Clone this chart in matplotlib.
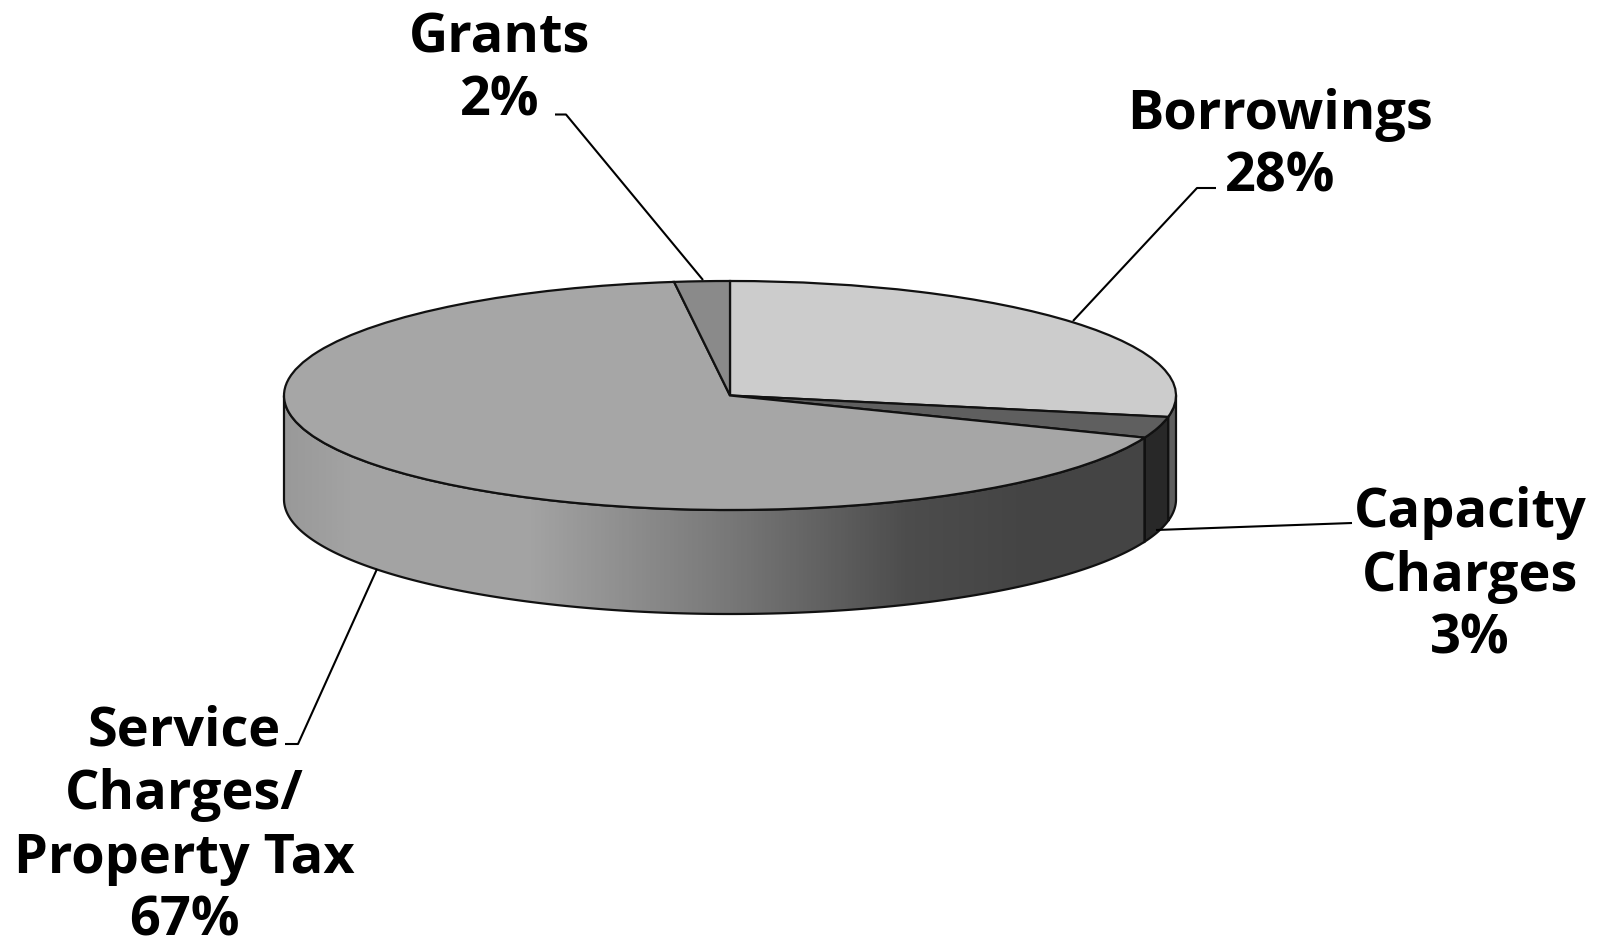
#!/usr/bin/env python
"""Funding sources as a tilted grey pie with a shaded rim."""
import numpy as np
import matplotlib
matplotlib.use("Agg")
import matplotlib.pyplot as plt
from matplotlib.colors import LinearSegmentedColormap
from matplotlib.patches import Polygon

W, H = 1602, 937

# chart values, clockwise from 12 o'clock
labels = ["Borrowings\n28%", "Capacity\nCharges\n3%", "Service\nCharges/\nProperty Tax\n67%", "Grants\n2%"]
values = [28, 3, 67, 2]
top_colors = ["#cccccc", "#5f5f5f", "#a6a6a6", "#8a8a8a"]
side_colors = ["#5e5e5e", "#282828", None, None]

# rim shading of the big slice, left to right
rim_x = [-1.0, -0.85, -0.45, 0.0, 0.4, 0.65, 1.0]
rim_grey = [0.60, 0.64, 0.64, 0.47, 0.30, 0.27, 0.27]

# pie geometry in pixels
CX, CY, RX, RY, DEPTH = 730, 396.5, 446, 114.5, 104


def px(x, y):
    return (x - CX) / RX, (CY - y) / RY


def rim_poly(a0, a1):
    t = np.radians(np.linspace(a0, a1, 200))
    top = np.c_[np.cos(t), np.sin(t)]
    bot = np.c_[np.cos(t), np.sin(t) - DEPTH / RY][::-1]
    return np.vstack([top, bot])


fig = plt.figure(figsize=(W / 100, H / 100), dpi=100)
ax = fig.add_axes([0, 0, 1, 1])

# wedge boundaries in math degrees, going clockwise from 90
edges = 90 - np.cumsum([0] + values) * 3.6
edges = np.where(edges < 0, edges + 360, edges)
vis = [(edges[1], 360), (edges[2], edges[1]), (180, edges[2])]

for i, (a0, a1) in enumerate(vis):
    poly = Polygon(rim_poly(a0, a1), closed=True, lw=1.6, edgecolor="#111111",
                   facecolor=side_colors[i] if side_colors[i] else "none", zorder=2)
    ax.add_patch(poly)
    if side_colors[i] is None:
        cm = LinearSegmentedColormap.from_list(
            "rim", [((x + 1) / 2, (g, g, g)) for x, g in zip(rim_x, rim_grey)])
        im = ax.imshow(np.linspace(0, 1, 512)[None, :], cmap=cm, vmin=0, vmax=1, aspect="auto",
                       extent=(-1, 1, -2.2, 0.2), zorder=1)
        im.set_clip_path(poly)

ax.pie(values, colors=top_colors, startangle=90, counterclock=False, radius=1,
       wedgeprops=dict(edgecolor="#111111", linewidth=1.6, zorder=3))

ax.set_aspect("auto")
ax.set_xlim(-CX / RX, (W - CX) / RX)
ax.set_ylim((CY - H) / RY, CY / RY)
ax.axis("off")

# leader lines
leaders = [
    [(1216, 189), (1197, 189), (1073, 322)],
    [(1352, 524), (1156, 531)],
    [(285, 745), (298, 745), (377, 570)],
    [(555, 115.5), (566, 115.5), (703, 281)],
]
for pts in leaders:
    xy = np.array([px(*p) for p in pts])
    ax.plot(xy[:, 0], xy[:, 1], color="black", lw=1.5, zorder=2, solid_capstyle="butt")

# label centre x and last-line baseline
label_pos = [(1280, 192), (1470, 654), (184, 936), (500, 116)]
for lab, (x, y) in zip(labels, label_pos):
    tx, ty = px(x, y)
    ax.text(tx, ty, lab, ha="center", va="baseline", multialignment="center",
            fontsize=39, fontweight="bold", family="Open Sans", linespacing=1.23,
            color="black", zorder=5)

fig.savefig("out.png", dpi=100)
